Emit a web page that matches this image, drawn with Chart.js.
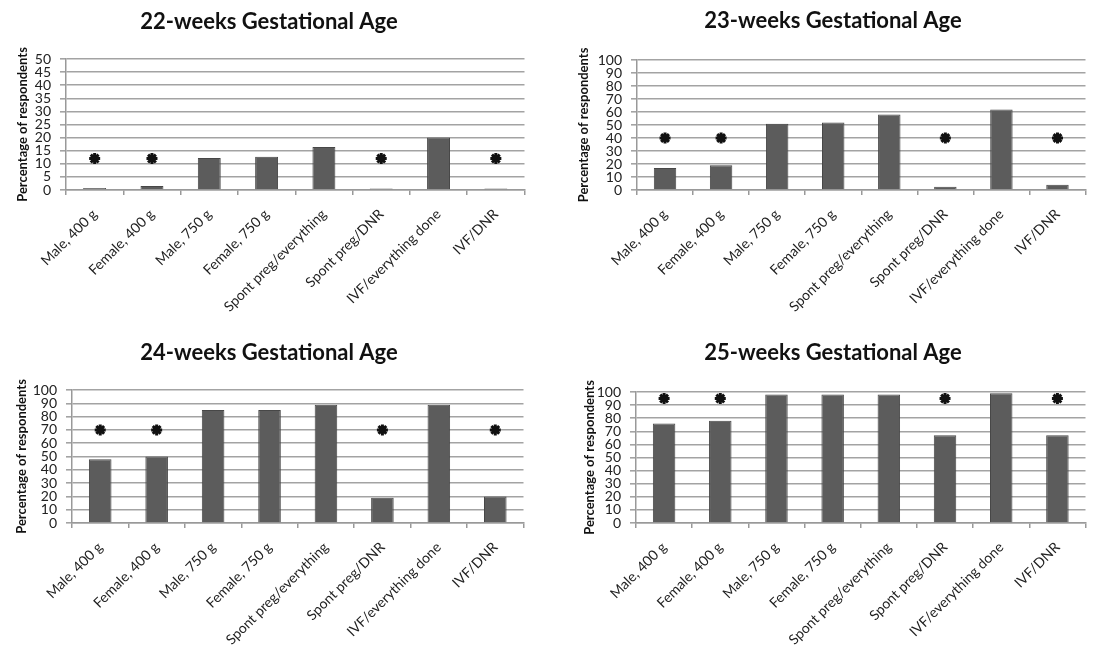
<!DOCTYPE html>
<html>
<head>
<meta charset="utf-8">
<script src="https://cdn.jsdelivr.net/npm/chart.js@4.4.0/dist/chart.umd.min.js"></script>
<style>
  body { margin: 0; background: #fff; }
  #page { position: relative; width: 1098px; height: 649px; overflow: hidden; }
  canvas { position: absolute; }
</style>
</head>
<body>
<div id="page">
  <canvas id="c22" width="528" height="325" style="left:5px;top:0px"></canvas>
  <canvas id="c23" width="522" height="325" style="left:572px;top:0px"></canvas>
  <canvas id="c24" width="526" height="324" style="left:6px;top:325px"></canvas>
  <canvas id="c25" width="522" height="324" style="left:572px;top:325px"></canvas>
</div>
<script>
// Categorias (iguais nos quatro painéis)
const categories = ['Male, 400 g', 'Female, 400 g', 'Male, 750 g', 'Female, 750 g',
  'Spont preg/everything', 'Spont preg/DNR', 'IVF/everything done', 'IVF/DNR'];

// Percentagem de respondentes por idade gestacional
const values22 = [0.8, 1.5, 12.2, 12.7, 16.4, 0.6, 20, 0.6];
const values23 = [17, 19, 51, 52, 58, 2.5, 62, 4];
const values24 = [48, 50, 85, 85, 89, 19, 89, 20];
const values25 = [76, 78, 98, 98, 98, 67, 99, 67];

// Asteriscos (altura onde aparece o *)
const stars22 = [12, 12, null, null, null, 12, null, 12];
const stars23 = [40, 40, null, null, null, 40, null, 40];
const stars24 = [70, 70, null, null, null, 70, null, 70];
const stars25 = [95, 95, null, null, null, 95, null, 95];

// Escalas do eixo y
const yMax22 = 50, yStep22 = 5;
const yMaxOther = 100, yStepOther = 10;

const FONT = 'Lato, "Open Sans", sans-serif';

function drawPanel(id, title, values, stars, yMax, yStep, geo) {
    const ctx = document.getElementById(id);
    new Chart(ctx.getContext('2d'), {
        data: {
            labels: categories,
            datasets: [
                {
                    type: 'bar',
                    data: values,
                    backgroundColor: '#5c5c5c',
                    borderColor: '#474747',
                    borderWidth: 1,
                    barPercentage: 0.4,
                    categoryPercentage: 1.0
                },
                {
                    type: 'line',
                    data: stars,
                    showLine: false,
                    pointStyle: 'star',
                    pointRadius: 5.5,
                    pointBorderWidth: 3,
                    pointBorderColor: '#111',
                    pointBackgroundColor: '#111',
                    borderColor: '#111'
                }
            ]
        },
        options: {
            responsive: false,
            animation: false,
            layout: { padding: 0 },
            plugins: {
                legend: { display: false },
                tooltip: { enabled: false },
                title: {
                    display: true,
                    text: title,
                    color: '#111',
                    font: { family: FONT, size: 22, weight: 'bold' },
                    padding: { top: geo.titleTop, bottom: geo.titleBottom }
                }
            },
            scales: {
                x: {
                    offset: true,
                    grid: { offset: true, drawOnChartArea: false, drawTicks: true, tickLength: 5, color: '#999', lineWidth: 1.5 },
                    border: { display: true, color: '#999', width: 1.5 },
                    ticks: {
                        autoSkip: false,
                        minRotation: 45, maxRotation: 45,
                        padding: 11,
                        color: '#222',
                        font: { family: FONT, size: 14 }
                    },
                    afterFit: function(scale) { scale.height = geo.xH; }
                },
                y: {
                    min: 0, max: yMax,
                    ticks: {
                        stepSize: yStep, autoSkip: false, padding: 9, color: '#222',
                        font: { family: FONT, size: 14, lineHeight: 1 }
                    },
                    grid: { color: '#a3a3a3', lineWidth: 1.6, tickLength: 6 },
                    border: { display: true, color: '#999', width: 1.5 },
                    title: {
                        display: true,
                        text: 'Percentage of respondents',
                        color: '#111',
                        font: { family: FONT, size: 13, weight: 'bold' },
                        padding: { top: geo.yTitlePad, bottom: 0 }
                    },
                    afterFit: function(scale) { scale.width = geo.yW; }
                }
            }
        }
    });
}

document.addEventListener('DOMContentLoaded', function() {
    drawPanel('c22', '22-weeks Gestational Age', values22, stars22, yMax22, yStep22,
        { yW: 61, xH: 135, titleTop: 9, titleBottom: 23.6, yTitlePad: 10 });
    drawPanel('c23', '23-weeks Gestational Age', values23, stars23, yMaxOther, yStepOther,
        { yW: 65, xH: 135, titleTop: 8, titleBottom: 25.6, yTitlePad: 4 });
    drawPanel('c24', '24-weeks Gestational Age', values24, stars24, yMaxOther, yStepOther,
        { yW: 66, xH: 126, titleTop: 15, titleBottom: 23.6, yTitlePad: 8 });
    drawPanel('c25', '25-weeks Gestational Age', values25, stars25, yMaxOther, yStepOther,
        { yW: 64, xH: 126, titleTop: 15, titleBottom: 25.6, yTitlePad: 10 });
});
</script>
</body>
</html>
